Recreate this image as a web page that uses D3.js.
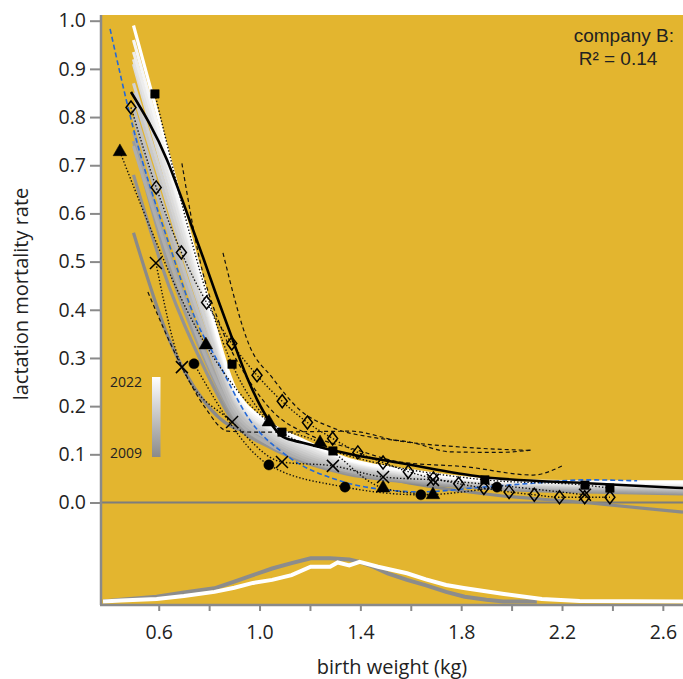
<!DOCTYPE html>
<html lang="en">
<head>
<meta charset="utf-8">
<title>Lactation mortality rate vs birth weight</title>
<script src="https://d3js.org/d3.v7.min.js"></script>
<style>
  body { margin: 0; background: #fff; }
  svg text { font-family: "Open Sans", sans-serif; fill: #222; }
  .axis path { display: none; }
  .axis line { stroke: #8a8a8a; stroke-width: 2; }
  .axis text { font-size: 19.5px; fill: #222; }
</style>
</head>
<body>
<svg width="683" height="679"></svg>
<script>

// ---- data ----
var years = [2009, 2010, 2011, 2012, 2013, 2014, 2015, 2016, 2017, 2018, 2019, 2020, 2021, 2022];
var yearWeights = [0.5, 0.64, 0.78, 0.9, 1.04, 1.17, 1.34, 1.6, 1.94, 2.29, 2.68];
var yearRates = [
  [0.56, 0.34, 0.21, 0.155, 0.14, 0.10, 0.07, 0.04, 0.015, 0.0, -0.02],
  [0.68, 0.45, 0.28, 0.165, 0.115, 0.085, 0.06, 0.042, 0.028, 0.022, 0.018],
  [0.75, 0.49, 0.30, 0.175, 0.12, 0.088, 0.063, 0.044, 0.03, 0.024, 0.02],
  [0.77, 0.52, 0.32, 0.185, 0.125, 0.09, 0.066, 0.046, 0.032, 0.026, 0.022],
  [0.74, 0.51, 0.31, 0.18, 0.12, 0.09, 0.067, 0.048, 0.034, 0.028, 0.024],
  [0.80, 0.56, 0.345, 0.19, 0.13, 0.095, 0.07, 0.05, 0.035, 0.03, 0.026],
  [0.82, 0.58, 0.36, 0.20, 0.135, 0.10, 0.074, 0.052, 0.036, 0.031, 0.028],
  [0.85, 0.61, 0.38, 0.21, 0.14, 0.105, 0.078, 0.054, 0.038, 0.033, 0.03],
  [0.87, 0.63, 0.39, 0.215, 0.145, 0.11, 0.08, 0.056, 0.04, 0.035, 0.032],
  [0.91, 0.65, 0.41, 0.22, 0.15, 0.115, 0.083, 0.058, 0.042, 0.036, 0.034],
  [0.92, 0.67, 0.42, 0.225, 0.152, 0.12, 0.085, 0.06, 0.043, 0.038, 0.036],
  [0.935, 0.69, 0.43, 0.23, 0.155, 0.125, 0.088, 0.062, 0.044, 0.04, 0.038],
  [0.96, 0.70, 0.44, 0.235, 0.16, 0.128, 0.09, 0.064, 0.045, 0.041, 0.04],
  [0.99, 0.72, 0.45, 0.24, 0.165, 0.13, 0.092, 0.066, 0.046, 0.043, 0.043]
];

// overall fit (solid black)
var fitWeights = [0.49, 0.633, 0.712, 0.775, 0.831, 0.894, 0.95, 1.029, 1.093, 1.172, 1.371, 1.557, 1.886, 2.299, 2.68];
var fitRates   = [0.852, 0.711, 0.601, 0.51, 0.427, 0.337, 0.26, 0.177, 0.136, 0.124, 0.099, 0.082, 0.053, 0.04, 0.03];

// blue dashed curve
var blueWeights = [0.407, 0.498, 0.645, 0.752, 0.831, 0.962, 1.109, 1.319, 1.506, 1.637, 1.886, 2.085, 2.299, 2.498];
var blueRates   = [0.983, 0.779, 0.53, 0.373, 0.296, 0.171, 0.097, 0.045, 0.026, 0.022, 0.032, 0.04, 0.047, 0.045];

// marker series
var diamondWeights = [0.49, 0.59, 0.69, 0.79, 0.89, 0.99, 1.09, 1.19, 1.29, 1.39, 1.49, 1.59, 1.69, 1.79, 1.89, 1.99, 2.09, 2.19, 2.29, 2.39];
var diamondRates   = [0.82, 0.654, 0.519, 0.415, 0.33, 0.264, 0.21, 0.166, 0.133, 0.104, 0.083, 0.064, 0.05, 0.039, 0.03, 0.022, 0.016, 0.011, 0.011, 0.011];
var squareWeights  = [0.585, 0.891, 1.089, 1.291, 1.894, 2.291, 2.39];
var squareRates    = [0.848, 0.287, 0.146, 0.107, 0.047, 0.036, 0.03];
var triangleWeights = [0.446, 0.787, 1.037, 1.24, 1.49, 1.688];
var triangleRates   = [0.728, 0.327, 0.167, 0.124, 0.03, 0.016];
var circleWeights = [0.74, 1.037, 1.339, 1.64, 1.942];
var circleRates   = [0.288, 0.078, 0.032, 0.016, 0.032];
var crossWeights = [0.589, 0.692, 0.891, 1.089, 1.291, 1.49, 1.688, 2.291];
var crossRates   = [0.497, 0.281, 0.167, 0.084, 0.076, 0.053, 0.047, 0.016];

// thin dashed curves
var dashA = [[0.855, 0.518], [0.962, 0.323], [1.049, 0.26], [1.16, 0.192], [1.29, 0.155], [1.45, 0.135], [1.6, 0.125], [1.76, 0.105], [1.95, 0.104], [2.08, 0.109]];
var dashB = [[0.692, 0.704], [0.763, 0.503], [0.85, 0.36], [0.95, 0.26], [1.05, 0.19], [1.2, 0.14], [1.38, 0.11], [1.56, 0.084], [1.82, 0.074], [2.085, 0.057], [2.2, 0.076]];
var dashC = [[0.557, 0.437], [0.692, 0.281], [0.78, 0.2], [0.875, 0.148], [1.0, 0.146], [1.2, 0.147], [1.36, 0.148], [1.55, 0.128], [1.8, 0.115], [2.08, 0.108]];

// birth weight distributions (bottom)
var densGreyWeights = [0.379, 0.45, 0.592, 0.7, 0.821, 0.9, 0.974, 1.05, 1.127, 1.203, 1.28, 1.356, 1.397, 1.45, 1.508, 1.585, 1.661, 1.74, 1.814, 1.9, 1.966, 2.1];
var densGreyValues  = [0, 0.03, 0.08, 0.15, 0.22, 0.33, 0.44, 0.55, 0.64, 0.72, 0.72, 0.70, 0.66, 0.58, 0.47, 0.36, 0.27, 0.16, 0.08, 0.03, 0, 0];
var densWhiteWeights = [0.379, 0.45, 0.592, 0.7, 0.821, 0.9, 0.974, 1.05, 1.127, 1.203, 1.28, 1.31, 1.356, 1.397, 1.47, 1.585, 1.66, 1.74, 1.81, 1.97, 2.12, 2.27, 2.68];
var densWhiteValues  = [0, 0.015, 0.04, 0.09, 0.16, 0.23, 0.31, 0.36, 0.44, 0.58, 0.58, 0.65, 0.60, 0.66, 0.58, 0.47, 0.37, 0.275, 0.225, 0.125, 0.04, 0.01, 0];

var yTicks = [0, 0.1, 0.2, 0.3, 0.4, 0.5, 0.6, 0.7, 0.8, 0.9, 1.0];
var xTicks = [0.6, 0.8, 1.0, 1.2, 1.4, 1.6, 1.8, 2.0, 2.2, 2.4, 2.6];
var xLabels = [0.6, 1.0, 1.4, 1.8, 2.2, 2.6];

// ---- layout ----
var svg = d3.select("svg");
var pLeft = 102, pTop = 15, pRight = 683, pBottom = 605;

var x = d3.scaleLinear().domain([0.375, 2.68]).range([pLeft, pRight]);
var y = d3.scaleLinear().domain([0, 1]).range([502.5, 20.7]);
var yd = d3.scaleLinear().domain([0, 1]).range([601.5, 541.5]);
var yearColor = d3.scaleLinear().domain([2009, 2022]).range(["#8a8a8a", "#ffffff"]);

var defs = svg.append("defs");
defs.append("clipPath").attr("id", "plotclip")
  .append("rect").attr("x", pLeft).attr("y", pTop).attr("width", pRight - pLeft).attr("height", pBottom - pTop);

// background
svg.append("rect")
  .attr("x", pLeft).attr("y", pTop)
  .attr("width", pRight - pLeft).attr("height", pBottom - pTop)
  .attr("fill", "#e3b52f");

var plot = svg.append("g").attr("clip-path", "url(#plotclip)");

// zero line
plot.append("line")
  .attr("x1", pLeft).attr("x2", pRight)
  .attr("y1", y(0)).attr("y2", y(0))
  .attr("stroke", "#7d7d7d").attr("stroke-width", 2);

var line = d3.line()
  .x(function(d) { return x(d[0]); })
  .y(function(d) { return y(d[1]); })
  .curve(d3.curveMonotoneX);

function pairs(xs, ys) {
  return xs.map(function(v, i) { return [v, ys[i]]; });
}

// yearly curves, dark (old) to white (new)
years.forEach(function(yr, i) {
  plot.append("path")
    .attr("d", line(pairs(yearWeights, yearRates[i])))
    .attr("fill", "none")
    .attr("stroke", yearColor(yr))
    .attr("stroke-width", 3.2);
});

// thin dashed curves
[dashA, dashB, dashC].forEach(function(pts) {
  plot.append("path")
    .attr("d", line(pts))
    .attr("fill", "none")
    .attr("stroke", "#111")
    .attr("stroke-width", 1.2)
    .attr("stroke-dasharray", "4,3");
});

// blue dashed
plot.append("path")
  .attr("d", line(pairs(blueWeights, blueRates)))
  .attr("fill", "none")
  .attr("stroke", "#2368d8")
  .attr("stroke-width", 1.6)
  .attr("stroke-dasharray", "5,3");

// dotted lines through each marker series
var series = [
  {xs: diamondWeights, ys: diamondRates, shape: "diamond"},
  {xs: squareWeights, ys: squareRates, shape: "square"},
  {xs: triangleWeights, ys: triangleRates, shape: "triangle"},
  {xs: circleWeights, ys: circleRates, shape: "circle"},
  {xs: crossWeights, ys: crossRates, shape: "cross"}
];

series.forEach(function(s) {
  plot.append("path")
    .attr("d", line(pairs(s.xs, s.ys)))
    .attr("fill", "none")
    .attr("stroke", "#111")
    .attr("stroke-width", 1.4)
    .attr("stroke-dasharray", "1.4,2");
});

// overall fit
plot.append("path")
  .attr("d", line(pairs(fitWeights, fitRates)))
  .attr("fill", "none")
  .attr("stroke", "#000")
  .attr("stroke-width", 2.6);

// markers
var sym = {
  diamond: "M0,-6.5L5,0L0,6.5L-5,0Z",
  square: d3.symbol().type(d3.symbolSquare).size(72)(),
  triangle: d3.symbol().type(d3.symbolTriangle).size(80)(),
  circle: d3.symbol().type(d3.symbolCircle).size(80)(),
  cross: "M-6,-6L6,6M-6,6L6,-6"
};

series.forEach(function(s) {
  plot.append("g").selectAll("path")
    .data(pairs(s.xs, s.ys))
    .enter().append("path")
      .attr("transform", function(d) { return "translate(" + x(d[0]) + "," + y(d[1]) + ")"; })
      .attr("d", sym[s.shape])
      .attr("fill", (s.shape == "diamond" || s.shape == "cross") ? "none" : "#000")
      .attr("stroke", "#000")
      .attr("stroke-width", (s.shape == "diamond" || s.shape == "cross") ? 1.5 : 0.5);
});

// birth weight distributions
var dline = d3.line()
  .x(function(d) { return x(d[0]); })
  .y(function(d) { return yd(d[1]); });

plot.append("path")
  .attr("d", dline(pairs(densGreyWeights, densGreyValues)))
  .attr("fill", "none").attr("stroke", "#8c8c8c").attr("stroke-width", 4);
plot.append("path")
  .attr("d", dline(pairs(densWhiteWeights, densWhiteValues)))
  .attr("fill", "none").attr("stroke", "#ffffff").attr("stroke-width", 4);

// ---- axes ----
svg.append("line")
  .attr("x1", pLeft - 1).attr("x2", pLeft - 1)
  .attr("y1", pTop).attr("y2", pBottom)
  .attr("stroke", "#8a8a8a").attr("stroke-width", 2.5);
svg.append("line")
  .attr("x1", pLeft - 2).attr("x2", pRight)
  .attr("y1", pBottom).attr("y2", pBottom)
  .attr("stroke", "#8a8a8a").attr("stroke-width", 2.5);

svg.append("g")
  .attr("class", "axis")
  .attr("transform", "translate(" + (pLeft - 1) + ",0)")
  .call(d3.axisLeft(y).tickValues(yTicks).tickFormat(d3.format(".1f")).tickSize(11).tickPadding(4));

svg.append("g")
  .attr("class", "axis")
  .attr("transform", "translate(0," + pBottom + ")")
  .call(d3.axisBottom(x).tickValues(xTicks)
    .tickFormat(function(d) { return xLabels.some(function(l) { return Math.abs(l - d) < 1e-6; }) ? d3.format(".1f")(d) : ""; })
    .tickSize(6).tickPadding(14));

svg.append("text")
  .attr("transform", "translate(28,294) rotate(-90)")
  .attr("text-anchor", "middle")
  .style("font-size", "20px")
  .text("lactation mortality rate");

svg.append("text")
  .attr("x", 392).attr("y", 674)
  .attr("text-anchor", "middle")
  .style("font-size", "20px")
  .text("birth weight (kg)");

// annotation
svg.append("text")
  .attr("x", 674).attr("y", 42)
  .attr("text-anchor", "end")
  .style("font-family", "'Liberation Sans', Arial, sans-serif")
  .style("font-size", "19px")
  .text("company B:");
svg.append("text")
  .attr("x", 618).attr("y", 65)
  .attr("text-anchor", "middle")
  .style("font-family", "'Liberation Sans', Arial, sans-serif")
  .style("font-size", "19px")
  .text("R\u00b2 = 0.14");

// year colour bar
var grad = defs.append("linearGradient")
  .attr("id", "yeargrad").attr("x1", 0).attr("y1", 0).attr("x2", 0).attr("y2", 1);
grad.append("stop").attr("offset", "0%").attr("stop-color", yearColor(2022));
grad.append("stop").attr("offset", "100%").attr("stop-color", yearColor(2009));

svg.append("rect")
  .attr("x", 152).attr("y", 377).attr("width", 8.5).attr("height", 80)
  .attr("fill", "url(#yeargrad)");
svg.append("text").attr("x", 142).attr("y", 387).attr("text-anchor", "end")
  .style("font-size", "14px").text(years[years.length - 1]);
svg.append("text").attr("x", 142).attr("y", 458).attr("text-anchor", "end")
  .style("font-size", "14px").text(years[0]);

</script>
</body>
</html>
